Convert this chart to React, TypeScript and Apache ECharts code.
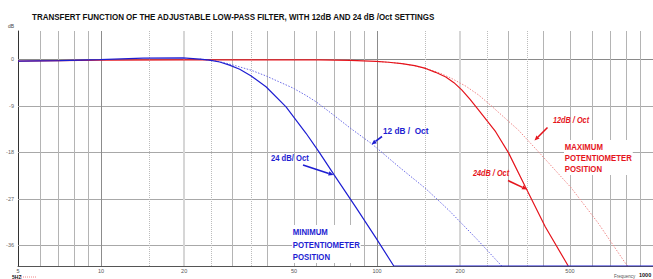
import React, { useEffect, useRef } from 'react';
import * as echarts from 'echarts';

// Frequency (Hz) / level (dB)
const blue24Freq = [5, 7.1, 9.9, 14.2, 19.8, 22.8, 24.7, 26.9, 29.2, 31.8, 35, 39.6, 46.8, 55.3, 61.6, 70, 83.5, 99.2, 115, 1000];
const blue24Db = [-0.35, -0.23, -0.05, 0.25, 0.3, 0.06, -0.14, -0.5, -1.1, -1.9, -3.2, -5.3, -9.2, -14.3, -17.9, -22.4, -28.5, -34.6, -40, -40];

const blue12Freq = [22.8, 25.5, 28, 30.8, 35, 39.6, 44, 49.4, 55, 60.1, 67, 80, 96, 120, 150, 182, 230, 283];
const blue12Db = [0.06, -0.2, -0.65, -1.24, -2.1, -3.2, -4.3, -5.5, -6.9, -8.2, -10.1, -13.3, -16.4, -20.8, -25.0, -29.2, -34.8, -40];

const red24Freq = [5, 9.9, 20, 61.6, 80, 99.2, 110, 123, 137, 150, 163, 177.5, 190, 202.7, 217, 233.5, 269, 299.6, 345, 407, 493];
const red24Db = [-0.35, -0.12, -0.1, -0.08, -0.2, -0.4, -0.55, -0.8, -1.2, -1.75, -2.5, -3.4, -4.5, -5.9, -7.7, -9.8, -14.0, -18.1, -24.7, -32.4, -40];

const red12Freq = [99.2, 110, 123, 138, 154, 170, 186.6, 210, 233.5, 257, 283, 325.5, 394, 506, 633, 793, 810];
const red12Db = [-0.4, -0.55, -0.8, -1.3, -1.9, -2.7, -3.7, -5.2, -6.9, -8.8, -10.8, -13.7, -18.5, -24.9, -31.7, -39.4, -40];

const yGridValues = [0, -9, -18, -27, -36];
const xLabelValues = [5, 10, 20, 50, 100, 200, 500];
const xDecadeLines = [10, 100];
const xLightWideLines = [20, 200];
const xPlainLines = [6, 7, 8, 9, 30, 40, 50, 60, 70, 80, 90, 300, 400, 500, 600, 700, 800, 900];
const xDottedLines = [15, 25, 35, 150, 250, 350];

const TITLE = 'TRANSFERT FUNCTION OF THE ADJUSTABLE LOW-PASS FILTER, WITH 12dB AND 24 dB /Oct SETTINGS';

const BLUE = '#1e1ed2';
const RED = '#e5141c';
const SANS = "'Liberation Sans', Arial, sans-serif";

const pairs = (f: number[], d: number[]) => f.map((x, i) => [x, d[i]]);

function arrow(x1: number, y1: number, x2: number, y2: number, color: string) {
  const dx = x2 - x1;
  const dy = y2 - y1;
  const len = Math.sqrt(dx * dx + dy * dy);
  const ux = dx / len;
  const uy = dy / len;
  const hl = 5;
  const hw = 2.2;
  const bx = x2 - ux * hl;
  const by = y2 - uy * hl;
  return [
    { type: 'line', z: 6, shape: { x1, y1, x2: bx, y2: by }, style: { stroke: color, lineWidth: 1.6 } },
    {
      type: 'polygon',
      z: 6,
      shape: { points: [[x2, y2], [bx - uy * hw, by + ux * hw], [bx + uy * hw, by - ux * hw]] },
      style: { fill: color },
    },
  ];
}

function txt(text: string, x: number, y: number, color: string, opts: any = {}, scaleX = 1, z = 6) {
  return {
    type: 'text',
    x,
    y,
    z,
    scaleX,
    style: {
      text,
      fill: color,
      fontFamily: SANS,
      fontSize: 9,
      fontWeight: 'bold',
      ...opts,
    },
  };
}

export default function App() {
  const ref = useRef<HTMLDivElement>(null);
  useEffect(() => {
    const chart = echarts.init(ref.current!, null, { renderer: 'svg' });
    const vLine = (v: number, color: string, width: number, type: string) => ({
      xAxis: v,
      lineStyle: { color, width, type },
    });
    const gridLines: any[] = [
      ...yGridValues.map((v) => ({ yAxis: v, lineStyle: { color: v === 0 ? '#8a8a8a' : '#a8a8a8', width: 1, type: 'solid' } })),
      ...xPlainLines.map((v) => vLine(v, '#b4b4b4', 1, 'solid')),
      ...xLightWideLines.map((v) => vLine(v, '#d6d6d6', 2, 'solid')),
      ...xDecadeLines.map((v) => vLine(v, '#8c8c8c', 1, 'solid')),
      ...xDottedLines.map((v) => vLine(v, '#bcbcbc', 1, 'dotted')),
      ...xLabelValues.map((v) => ({
        xAxis: v,
        lineStyle: { color: 'rgba(0,0,0,0)', width: 0 },
        label: {
          show: true,
          position: 'start',
          formatter: String(v),
          fontSize: 5.5,
          color: '#555',
          fontFamily: SANS,
          distance: 2,
        },
      })),
    ];

    const curve = (name: string, data: number[][], color: string, width: number, type: any, z: number) => ({
      type: 'line',
      name,
      data,
      showSymbol: false,
      symbol: 'none',
      lineStyle: { color, width, type },
      z,
    });

    const option: any = {
      animation: false,
      grid: { left: 18, top: 31, width: 637, height: 235 },
      xAxis: {
        type: 'log',
        logBase: 10,
        min: 5,
        max: 1000,
        axisLine: { show: true, onZero: false, lineStyle: { color: '#555', width: 1 } },
        axisTick: { show: false },
        axisLabel: { show: false },
        splitLine: { show: false },
      },
      yAxis: {
        type: 'value',
        min: -40,
        max: 5.5,
        interval: 1,
        axisLine: { show: true, onZero: false, lineStyle: { color: '#333', width: 1 } },
        axisTick: { show: false },
        splitLine: { show: false },
        axisLabel: {
          formatter: (v: number) => (Math.round(v) % 9 === 0 && Math.abs(v - Math.round(v)) < 1e-6 ? String(Math.round(v)) : ''),
          fontSize: 5.5,
          color: '#666',
          margin: 4,
          fontFamily: SANS,
        },
      },
      series: [
        {
          type: 'line',
          name: 'grid',
          data: [[5, -40]],
          showSymbol: false,
          symbol: 'none',
          lineStyle: { opacity: 0 },
          z: 1,
          silent: true,
          markLine: {
            z: 1,
            silent: true,
            symbol: ['none', 'none'],
            animation: false,
            label: { show: false },
            data: gridLines,
          },
        },
        curve('Min 12 dB/Oct', pairs(blue12Freq, blue12Db), '#6b6be6', 1, [1.5, 1.5], 3),
        curve('Max 12 dB/Oct', pairs(red12Freq, red12Db), '#ef8888', 1, [1.5, 1.5], 3),
        curve('Max 24 dB/Oct', pairs(red24Freq, red24Db), RED, 1.2, 'solid', 4),
        curve('Min 24 dB/Oct', pairs(blue24Freq, blue24Db), BLUE, 1.2, 'solid', 4),
      ],
      graphic: [
        txt(TITLE, 32, 12, '#111', { fontSize: 9 }, 0.89),
        txt('dB', 8, 23, '#444', { fontSize: 5, fontWeight: 'normal' }),
        txt('5HZ', 12, 274, '#111', { fontSize: 5 }),
        { type: 'line', shape: { x1: 21, y1: 277, x2: 37, y2: 277 }, style: { stroke: '#e88', lineWidth: 1, lineDash: [1, 1] } },
        txt('Frequency', 614, 274, '#555', { fontSize: 4.5, fontWeight: 'normal' }),
        txt('1000', 639, 272, '#111', { fontSize: 5.5 }),
        txt('12 dB /  Oct', 383, 126, BLUE, {}, 0.92),
        txt('24 dB/ Oct', 271, 153, BLUE, {}, 0.85),
        txt('MINIMUM\nPOTENTIOMETER\nPOSITION', 292, 225, BLUE, { lineHeight: 12.3, backgroundColor: '#fff', padding: [1, 1, 0, 1] }, 0.865, 2),
        txt('12dB / Oct', 553, 116, RED, { fontStyle: 'italic', fontSize: 8.5 }, 0.86),
        txt('24dB / Oct', 473, 169, RED, { fontStyle: 'italic', fontSize: 8.5 }, 0.86),
        txt('MAXIMUM\nPOTENTIOMETER\nPOSITION', 564, 140, RED, { lineHeight: 11.3, backgroundColor: '#fff', padding: [1, 1, 0, 1] }, 0.865, 2),
        ...arrow(382, 136.5, 371.5, 144.5, BLUE),
        ...arrow(303, 165, 333.5, 175, BLUE),
        ...arrow(547.5, 127.5, 534.5, 140.5, RED),
        ...arrow(508, 180.5, 527, 189.5, RED),
      ],
    };
    chart.setOption(option);
    return () => chart.dispose();
  }, []);
  return (
    <div
      ref={ref}
      style={{ position: 'fixed', left: 0, top: 0, width: 653, height: 279, background: '#fff' }}
    />
  );
}
